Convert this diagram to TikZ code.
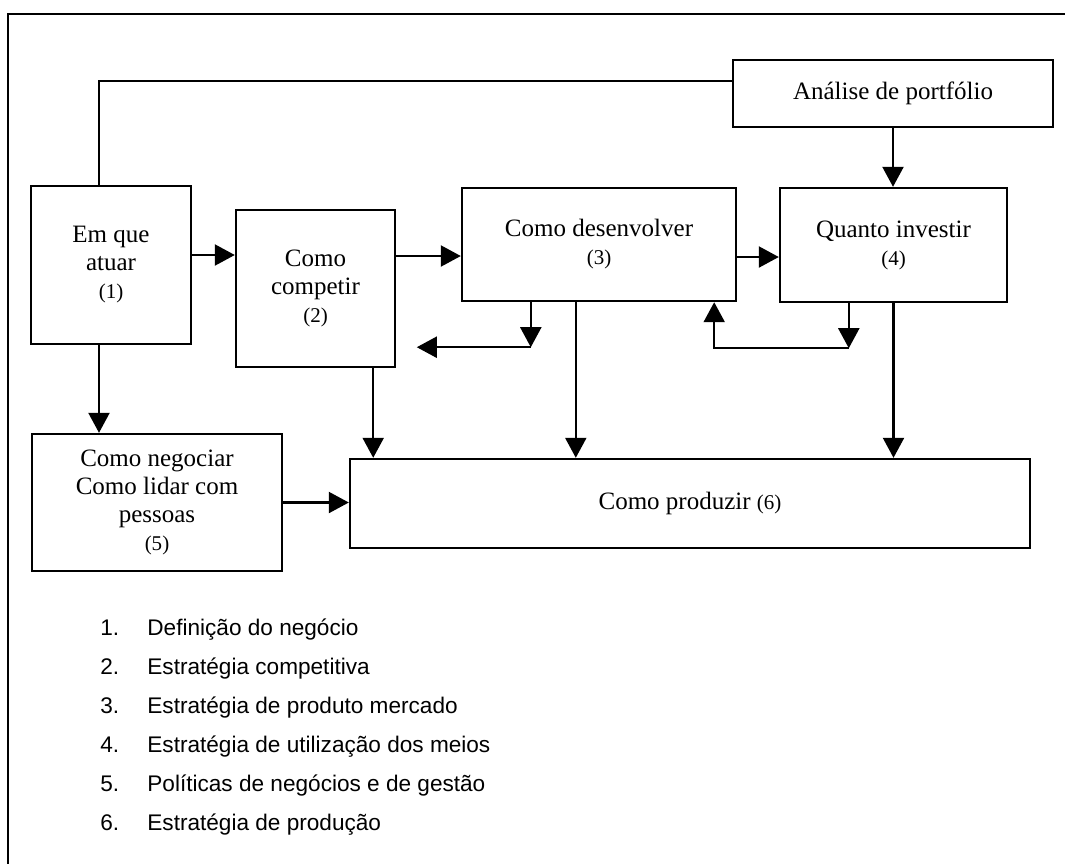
\documentclass[tikz,border=0pt]{standalone}
\usepackage{fontspec}
\setmainfont{Liberation Serif}
\newfontfamily\listfont{Liberation Sans}
\usetikzlibrary{arrows.meta}
\tikzset {
caixa/.style={shape=rectangle,draw,line width=1.2pt,align=center,inner sep=2pt,font=\fontsize{12.5}{14}\selectfont},
seta/.style={-{Triangle[length=10pt,width=10.5pt]},line width=1.1pt},
linha/.style={line width=1.1pt},
item/.style={anchor=west,inner sep=0pt,font=\listfont\fontsize{11.3}{13}\selectfont}
}
\newcommand{\numero}[1]{{\fontsize{10.5}{12}\selectfont #1}}
\newcommand{\marca}[1]{\makebox[23.5pt][l]{#1}}

\begin{document}
\begin{tikzpicture}
[x=0.5pt,y=-0.5pt]
\useasboundingbox (0,0) rectangle (1065,864);
\draw[line width=1.3pt] (1065,14) -- (8,14) -- (8,864);

\node[caixa,minimum width=160pt,minimum height=33.5pt] (portfolio) at (893,93.5) {Análise de portfólio};
\node[caixa,minimum width=80pt,minimum height=79pt] (atuar) at (111,265) {Em que\\atuar\\\numero{(1)}};
\node[caixa,minimum width=79.5pt,minimum height=78.5pt] (competir) at (315.5,288.5) {Como\\competir\\\numero{(2)}};
\node[caixa,minimum width=137pt,minimum height=56.5pt] (desenvolver) at (599,244.5) {Como desenvolver\\\numero{(3)}};
\node[caixa,minimum width=113.5pt,minimum height=57pt] (investir) at (893.5,245) {Quanto investir\\\numero{(4)}};
\node[caixa,minimum width=125pt,minimum height=68.5pt] (negociar) at (157,502.5) {Como negociar\\Como lidar com\\pessoas\\\numero{(5)}};
\node[caixa,minimum width=340pt,minimum height=44.5pt] (produzir) at (690,503.5) {Como produzir \numero{(6)}};

\coordinate (desvio) at ([xshift=35pt,yshift=-22.5pt]desenvolver.south west);
\coordinate (retorno) at ([xshift=-57pt]desvio);
\coordinate (ciclo) at ([xshift=35pt,yshift=-22.5pt]investir.south west);

\draw[linha] ([yshift=6.25pt]portfolio.west) -| ([xshift=-6pt]atuar.north);
\draw[seta] (portfolio.south) -- (portfolio.south |- investir.north);
\draw[seta] ([yshift=5pt]atuar.east) -- ([yshift=5pt]atuar.east -| competir.west);
\draw[seta] ([yshift=-5.75pt]desenvolver.west -| competir.east) -- ([yshift=-5.75pt]desenvolver.west);
\draw[seta] ([yshift=-6.25pt]desenvolver.east) -- ([yshift=-6.25pt]desenvolver.east -| investir.west);
\draw[seta] ([xshift=-6pt]atuar.south) -- ([xshift=-6pt]atuar.south |- negociar.north);
\draw[seta] (negociar.east) -- (negociar.east -| produzir.west);
\draw[seta] (desvio |- desenvolver.south) -- (desvio);
\draw[seta] (desvio) -- (retorno);
\draw[seta] (ciclo |- investir.south) -- (ciclo);
\draw[seta] (ciclo) -| ([xshift=-11.5pt]desenvolver.south east);
\draw[seta] ([xshift=-11.5pt]competir.south east) -- ([xshift=-11.5pt]competir.south east |- produzir.north);
\draw[seta] ([xshift=57.5pt]desenvolver.south west) -- ([xshift=57.5pt]desenvolver.south west |- produzir.north);
\draw[seta] (investir.south) -- (investir.south |- produzir.north);

\node[item] (item1) at (100,630) {\marca{1.}Definição do negócio};
\node[item] (item2) at (100,669) {\marca{2.}Estratégia competitiva};
\node[item] (item3) at (100,708) {\marca{3.}Estratégia de produto mercado};
\node[item] (item4) at (100,747) {\marca{4.}Estratégia de utilização dos meios};
\node[item] (item5) at (100,786) {\marca{5.}Políticas de negócios e de gestão};
\node[item] (item6) at (100,825) {\marca{6.}Estratégia de produção};
\end{tikzpicture}
\end{document}
